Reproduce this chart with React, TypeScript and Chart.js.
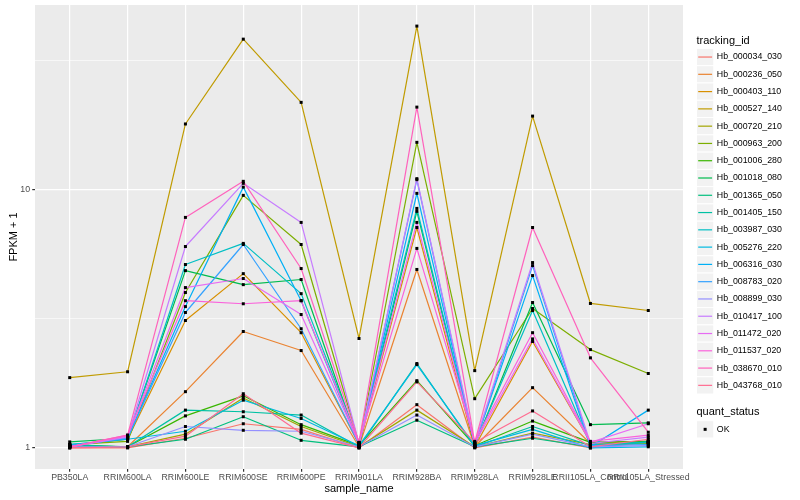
import React, { useEffect, useRef } from "react";
import { Chart, registerables } from "chart.js";

Chart.register(...registerables);

const categories = [
  "PB350LA", "RRIM600LA", "RRIM600LE", "RRIM600SE", "RRIM600PE", "RRIM901LA",
  "RRIM928BA", "RRIM928LA", "RRIM928LE", "RRII105LA_Control", "RRII105LA_Stressed",
];

const trackingIds = [
  "Hb_000034_030", "Hb_000236_050", "Hb_000403_110", "Hb_000527_140", "Hb_000720_210",
  "Hb_000963_200", "Hb_001006_280", "Hb_001018_080", "Hb_001365_050", "Hb_001405_150",
  "Hb_003987_030", "Hb_005276_220", "Hb_006316_030", "Hb_008783_020", "Hb_008899_030",
  "Hb_010417_100", "Hb_011472_020", "Hb_011537_020", "Hb_038670_010", "Hb_043768_010",
];

const seriesColors = [
  "#F8766D", "#EA8331", "#D89000", "#C09B00", "#A3A500",
  "#7CAE00", "#39B600", "#00BB4E", "#00BF7D", "#00C1A3",
  "#00BFC4", "#00BAE0", "#00B0F6", "#35A2FF", "#9590FF",
  "#C77CFF", "#E76BF3", "#FA62DB", "#FF62BC", "#FF6C91",
];

const hb000034_030 = [1.00, 1.00, 1.09, 1.24, 1.18, 1.00, 1.47, 1.00, 1.10, 1.00, 1.05];
const hb000236_050 = [1.01, 1.01, 1.65, 2.82, 2.38, 1.01, 4.90, 1.01, 1.71, 1.04, 1.05];
const hb000403_110 = [1.02, 1.08, 3.11, 4.72, 2.79, 1.03, 7.12, 1.01, 2.58, 1.05, 1.06];
const hb000527_140 = [1.87, 1.97, 17.9, 38.1, 21.7, 2.65, 42.8, 1.99, 19.2, 3.62, 3.40];
const hb000720_210 = [1.01, 1.01, 1.13, 1.56, 1.21, 1.01, 1.40, 1.01, 1.14, 1.03, 1.04];
const hb000963_200 = [1.03, 1.06, 3.99, 9.48, 6.12, 1.04, 15.2, 1.55, 3.46, 2.40, 1.94];
const hb001006_280 = [1.02, 1.01, 1.33, 1.59, 1.23, 1.02, 1.82, 1.02, 1.27, 1.05, 1.06];
const hb001018_080 = [1.055, 1.09, 4.85, 4.28, 4.48, 1.02, 8.22, 1.02, 3.65, 1.23, 1.25];
const hb001365_050 = [1.03, 1.01, 1.08, 1.32, 1.07, 1.01, 1.28, 1.01, 1.09, 1.01, 1.06];
const hb001405_150 = [1.02, 1.01, 1.40, 1.38, 1.34, 1.01, 2.12, 1.01, 1.21, 1.02, 1.05];
const hb003987_030 = [1.03, 1.08, 5.12, 6.18, 3.95, 1.05, 8.44, 1.03, 3.40, 1.03, 1.05];
const hb005276_220 = [1.03, 1.08, 1.16, 1.53, 1.30, 1.02, 2.10, 1.02, 1.18, 1.00, 1.01];
const hb006316_030 = [1.02, 1.09, 3.52, 10.2, 3.71, 1.03, 9.65, 1.03, 4.64, 1.01, 1.40];
const hb008783_020 = [1.02, 1.09, 3.34, 6.12, 2.89, 1.03, 10.9, 1.02, 5.07, 1.02, 1.03];
const hb008899_030 = [1.01, 1.01, 1.21, 1.17, 1.16, 1.01, 1.34, 1.01, 1.13, 1.01, 1.02];
const hb010417_100 = [1.01, 1.10, 6.01, 10.55, 7.45, 1.04, 11.0, 1.04, 5.21, 1.04, 1.10];
const hb011472_020 = [1.01, 1.11, 4.17, 4.52, 3.28, 1.04, 7.45, 1.04, 2.64, 1.05, 1.24];
const hb011537_020 = [1.01, 1.12, 3.71, 3.61, 3.71, 1.05, 5.91, 1.06, 2.79, 1.06, 1.12];
const hb038670_010 = [1.01, 1.12, 7.79, 10.74, 4.94, 1.05, 20.8, 1.05, 7.12, 2.23, 1.15];
const hb043768_010 = [1.00, 1.01, 1.11, 1.62, 1.14, 1.00, 1.80, 1.05, 1.39, 1.01, 1.08];

const seriesValues = [
  hb000034_030, hb000236_050, hb000403_110, hb000527_140, hb000720_210,
  hb000963_200, hb001006_280, hb001018_080, hb001365_050, hb001405_150,
  hb003987_030, hb005276_220, hb006316_030, hb008783_020, hb008899_030,
  hb010417_100, hb011472_020, hb011537_020, hb038670_010, hb043768_010,
];

const yMajorTicks = [1, 10];
const yMinorTicks = [3.1623, 31.623];
const quantStatusLevels = ["OK"];

const xTitle = "sample_name";
const yTitle = "FPKM + 1";
const colorLegendTitle = "tracking_id";
const shapeLegendTitle = "quant_status";

const FONT = '"Liberation Sans", Arial, Helvetica, sans-serif';

export default function App() {
  const canvasRef = useRef<HTMLCanvasElement | null>(null);

  useEffect(() => {
    const canvas = canvasRef.current;
    if (!canvas) return;

    const allValues = seriesValues.flat();
    const lo = Math.log10(Math.min(...allValues));
    const hi = Math.log10(Math.max(...allValues));
    const pad = (hi - lo) * 0.05;
    const yMin = Math.pow(10, lo - pad);
    const yMax = Math.pow(10, hi + pad);

    const panelBg = {
      id: "panelBg",
      beforeDraw(chart: any) {
        const { ctx, chartArea } = chart;
        ctx.save();
        ctx.fillStyle = "#EBEBEB";
        ctx.fillRect(chartArea.left, chartArea.top, chartArea.right - chartArea.left, chartArea.bottom - chartArea.top);
        ctx.restore();
      },
    };

    const pointsPlugin = {
      id: "blackPoints",
      afterDatasetsDraw(chart: any) {
        const ctx = chart.ctx;
        ctx.save();
        ctx.fillStyle = "#000000";
        chart.data.datasets.forEach((_: any, i: number) => {
          const meta = chart.getDatasetMeta(i);
          meta.data.forEach((el: any) => {
            ctx.fillRect(el.x - 1.5, el.y - 1.5, 3, 3);
          });
        });
        ctx.restore();
      },
    };

    const legendPlugin = {
      id: "ggLegend",
      afterDraw(chart: any) {
        const ctx = chart.ctx;
        const keyX = 696.5;
        const key = 17.28;
        const labelX = 716.8;
        ctx.save();
        ctx.textAlign = "left";
        ctx.fillStyle = "#000000";
        ctx.font = `11px ${FONT}`;
        ctx.textBaseline = "alphabetic";
        ctx.fillText(colorLegendTitle, keyX, 43.5);
        let y = 48.4;
        chart.data.datasets.forEach((ds: any) => {
          ctx.fillStyle = "#F2F2F2";
          ctx.fillRect(keyX, y, key, key);
          ctx.strokeStyle = "#FFFFFF";
          ctx.lineWidth = 1;
          ctx.strokeRect(keyX, y, key, key);
          ctx.strokeStyle = ds.borderColor;
          ctx.lineWidth = 1.2;
          ctx.beginPath();
          ctx.moveTo(keyX + 1.7, y + key / 2);
          ctx.lineTo(keyX + key - 1.7, y + key / 2);
          ctx.stroke();
          ctx.fillStyle = "#000000";
          ctx.font = `8.8px ${FONT}`;
          ctx.textBaseline = "middle";
          ctx.fillText(ds.label, labelX, y + key / 2);
          y += key;
        });

        ctx.font = `11px ${FONT}`;
        ctx.textBaseline = "alphabetic";
        ctx.fillStyle = "#000000";
        ctx.fillText(shapeLegendTitle, keyX, 415);
        let y2 = 420.7;
        quantStatusLevels.forEach((lvl) => {
          ctx.fillStyle = "#F2F2F2";
          ctx.fillRect(keyX, y2, key, key);
          ctx.strokeStyle = "#FFFFFF";
          ctx.lineWidth = 1;
          ctx.strokeRect(keyX, y2, key, key);
          ctx.fillStyle = "#000000";
          ctx.fillRect(keyX + key / 2 - 1.5, y2 + key / 2 - 1.5, 3, 3);
          ctx.font = `8.8px ${FONT}`;
          ctx.textBaseline = "middle";
          ctx.fillText(lvl, labelX, y2 + key / 2);
          y2 += key;
        });

        // axis titles
        const ca = chart.chartArea;
        ctx.fillStyle = "#000000";
        ctx.font = `11px ${FONT}`;
        ctx.textAlign = "center";
        ctx.textBaseline = "alphabetic";
        ctx.fillText(xTitle, (ca.left + ca.right) / 2, 491.5);
        ctx.save();
        ctx.translate(16.5, (ca.top + ca.bottom) / 2);
        ctx.rotate(-Math.PI / 2);
        ctx.fillText(yTitle, 0, 0);
        ctx.restore();
        ctx.restore();
      },
    };

    const isMajor = (v: number) => yMajorTicks.some((m) => Math.abs(m - v) < 1e-6);

    const chart = new Chart(canvas, {
      type: "line",
      data: {
        datasets: seriesValues.map((vals, i) => ({
          label: trackingIds[i],
          data: vals.map((v, j) => ({ x: j, y: v })),
          borderColor: seriesColors[i],
          backgroundColor: seriesColors[i],
          borderWidth: 1.2,
          borderJoinStyle: "round" as const,
          pointRadius: 0,
          pointHoverRadius: 0,
          fill: false,
          tension: 0,
          order: -i,
        })),
      },
      options: {
        animation: false,
        responsive: false,
        maintainAspectRatio: false,
        events: [],
        layout: { padding: { top: 5, right: 117, left: 0, bottom: 0 } },
        plugins: {
          legend: { display: false },
          tooltip: { enabled: false },
          title: { display: false },
        },
        scales: {
          x: {
            type: "linear",
            min: -0.6,
            max: categories.length - 1 + 0.6,
            afterBuildTicks: (s: any) => {
              s.ticks = categories.map((_, i) => ({ value: i }));
            },
            afterFit: (s: any) => {
              s.height = 31;
              s.paddingLeft = 0;
              s.paddingRight = 0;
            },
            ticks: {
              callback: (v: any) => categories[Math.round(Number(v))] ?? "",
              autoSkip: false,
              maxRotation: 0,
              minRotation: 0,
              color: "#4D4D4D",
              font: { family: FONT, size: 8.8 },
              padding: 1,
            },
            grid: {
              color: "#FFFFFF",
              lineWidth: 1.2,
              tickColor: "#333333",
              tickLength: 2.75,
              drawTicks: true,
            },
            border: { display: false },
          },
          y: {
            type: "logarithmic",
            min: yMin,
            max: yMax,
            afterBuildTicks: (s: any) => {
              s.ticks = [...yMajorTicks, ...yMinorTicks].sort((a, b) => a - b).map((v) => ({ value: v }));
            },
            afterFit: (s: any) => {
              s.width = 35;
              s.paddingTop = 0;
              s.paddingBottom = 0;
            },
            ticks: {
              callback: (v: any) => (isMajor(Number(v)) ? String(Number(v)) : ""),
              autoSkip: false,
              color: "#4D4D4D",
              font: { family: FONT, size: 8.8 },
              padding: 2.2,
            },
            grid: {
              color: "#FFFFFF",
              lineWidth: (c: any) => (c.tick && isMajor(c.tick.value) ? 1.2 : 0.6),
              tickColor: (c: any) => (c.tick && isMajor(c.tick.value) ? "#333333" : "rgba(0,0,0,0)"),
              tickLength: 2.75,
              drawTicks: true,
            },
            border: { display: false },
          },
        },
      } as any,
      plugins: [panelBg, pointsPlugin, legendPlugin],
    });

    return () => {
      chart.destroy();
    };
  }, []);

  return (
    <div style={{ position: "absolute", left: 0, top: 0, width: 800, height: 500, background: "#FFFFFF" }}>
      <canvas ref={canvasRef} width={800} height={500} style={{ width: 800, height: 500, display: "block" }} />
    </div>
  );
}
